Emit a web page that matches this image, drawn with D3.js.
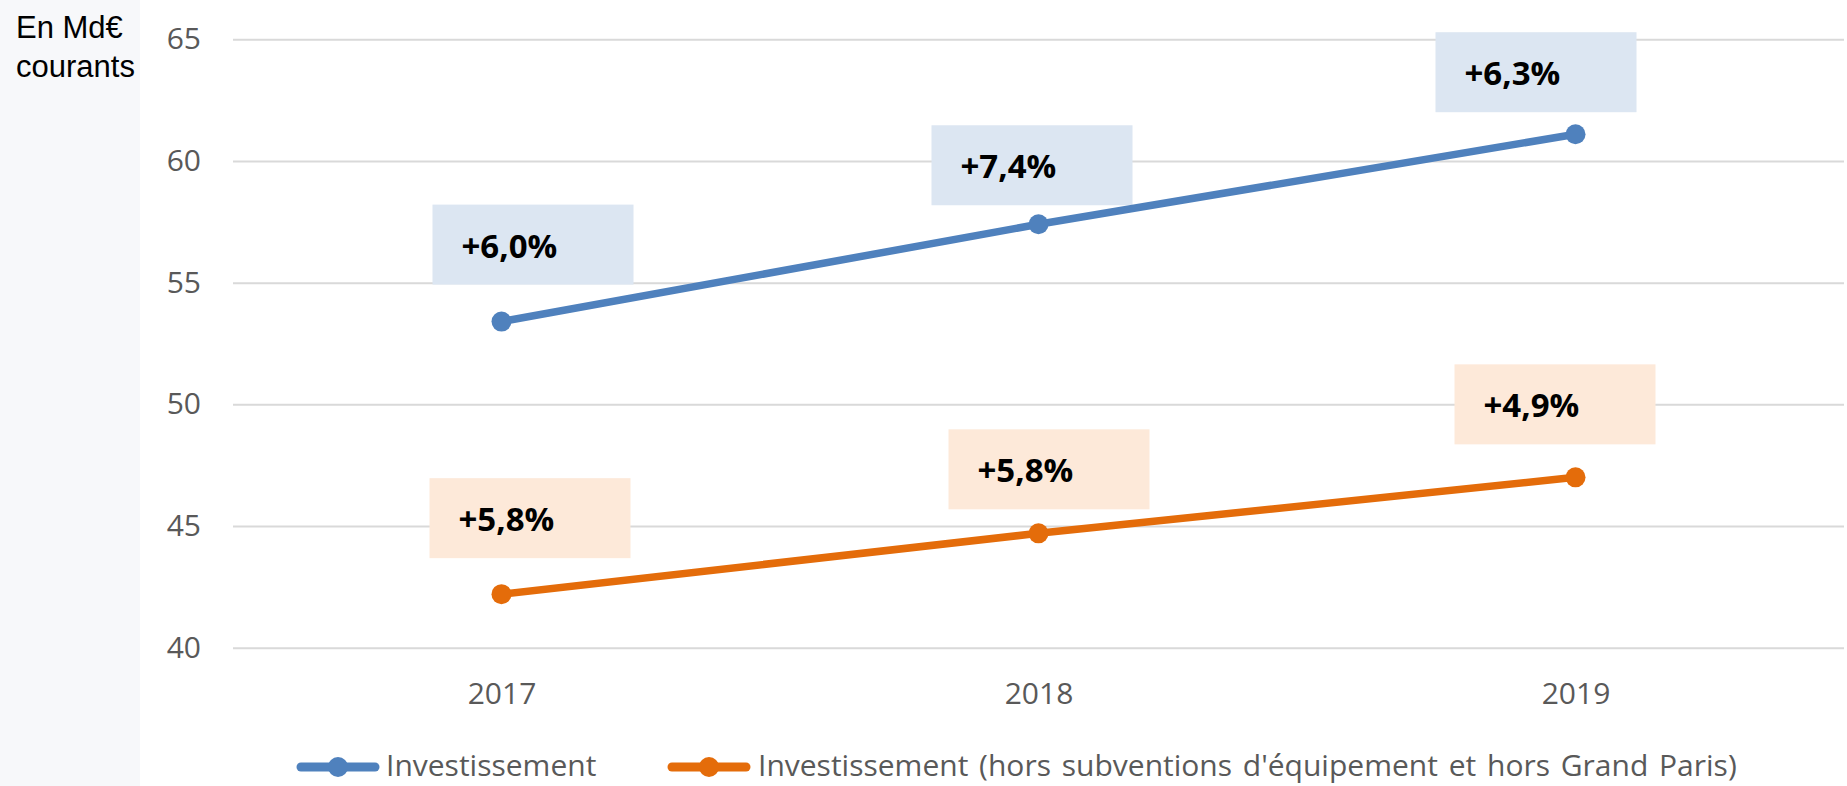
<!DOCTYPE html>
<meta charset="utf-8">
<script src="https://d3js.org/d3.v7.min.js"></script>
<style>
	body { margin: 0; background: #fff; }
	#chart { display: block; }
	.tick text { font-family: "Open Sans", sans-serif; font-size: 30px; fill: #595959; }
	.tick line { stroke: #d9d9d9; stroke-width: 2px; }
	.unit { font-family: "Liberation Sans", Arial, sans-serif; font-size: 31px; fill: #000; }
	.growth { font-family: "Open Sans", sans-serif; font-size: 33px; font-weight: 700; fill: #000; }
	.legend text { font-family: "Open Sans", sans-serif; font-size: 30px; fill: #595959; word-spacing: 3px; }
</style>
<body>
	<svg id="chart"></svg>
</body>
<script>
	// data
	const years = ["2017", "2018", "2019"];
	const invest = [53.4, 57.4, 61.1];
	const investHors = [42.2, 44.7, 47.0];
	const investGrowth = ["+6,0%", "+7,4%", "+6,3%"];
	const investHorsGrowth = ["+5,8%", "+5,8%", "+4,9%"];
	const yTicks = [40, 45, 50, 55, 60, 65];
	const seriesNames = ["Investissement", "Investissement (hors subventions d'équipement et hors Grand Paris)"];

	// label box offsets (px, relative to the point), placed by hand like in the original
	const investLabelPos = [[-69, -117], [-107, -99], [-140, -102]];
	const investHorsLabelPos = [[-72, -116], [-90, -104], [-121, -113]];

	const width = 1847, height = 786;
	const plotLeft = 233, plotRight = 1844, plotTop = 39.3, plotBottom = 647.7;

	const svg = d3.select("#chart")
		.attr("width", width)
		.attr("height", height);

	// grey panel behind the unit label
	svg.append("rect")
		.attr("x", 0).attr("y", 0)
		.attr("width", 140).attr("height", height)
		.attr("fill", "#f7f8fa");

	svg.append("text").attr("class", "unit").attr("x", 16).attr("y", 38).text("En Md€");
	svg.append("text").attr("class", "unit").attr("x", 16).attr("y", 77).text("courants");

	const x = d3.scalePoint().domain(years).range([plotLeft, plotRight]).padding(0.5);
	const y = d3.scaleLinear().domain([40, 65]).range([plotBottom, plotTop]);

	// y axis + gridlines
	svg.append("g")
		.attr("transform", "translate(" + plotLeft + ",0)")
		.call(d3.axisLeft(y).tickValues(yTicks).tickSize(-(plotRight - plotLeft)).tickPadding(32))
		.call(g => g.select(".domain").remove());

	// x axis
	svg.append("g")
		.attr("transform", "translate(0," + plotBottom + ")")
		.call(d3.axisBottom(x).tickSize(0).tickPadding(35))
		.call(g => g.select(".domain").remove());

	const series = [
		{ name: seriesNames[0], values: invest, growth: investGrowth, pos: investLabelPos, color: "#4f81bd", box: "#dce6f2" },
		{ name: seriesNames[1], values: investHors, growth: investHorsGrowth, pos: investHorsLabelPos, color: "#e46c0a", box: "#fde9d9" }
	];

	const line = d3.line()
		.x((d, i) => x(years[i]))
		.y(d => y(d));

	series.forEach(function(s) {
		const g = svg.append("g");

		// growth label boxes
		const labels = g.selectAll(".lbl")
			.data(s.values)
			.enter().append("g")
			.attr("transform", (d, i) => "translate(" + (x(years[i]) + s.pos[i][0]) + "," + (y(d) + s.pos[i][1]) + ")");
		labels.append("rect")
			.attr("width", 201).attr("height", 80)
			.attr("fill", s.box);
		labels.append("text")
			.attr("class", "growth")
			.attr("x", 29).attr("y", 53)
			.text((d, i) => s.growth[i]);

		g.append("path")
			.datum(s.values)
			.attr("fill", "none")
			.attr("stroke", s.color)
			.attr("stroke-width", 7.5)
			.attr("d", line);

		g.selectAll("circle")
			.data(s.values)
			.enter().append("circle")
			.attr("cx", (d, i) => x(years[i]))
			.attr("cy", d => y(d))
			.attr("r", 10)
			.attr("fill", s.color);
	});

	// legend
	const legendX = [297, 668];
	const legend = svg.append("g").attr("class", "legend");
	series.forEach(function(s, i) {
		const lg = legend.append("g").attr("transform", "translate(" + legendX[i] + ",767)");
		lg.append("line")
			.attr("x1", 4).attr("x2", 78)
			.attr("stroke", s.color)
			.attr("stroke-width", 9)
			.attr("stroke-linecap", "round");
		lg.append("circle").attr("cx", 41).attr("r", 10).attr("fill", s.color);
		lg.append("text").attr("x", i === 0 ? 89 : 90).attr("y", 9).text(s.name);
	});
</script>
